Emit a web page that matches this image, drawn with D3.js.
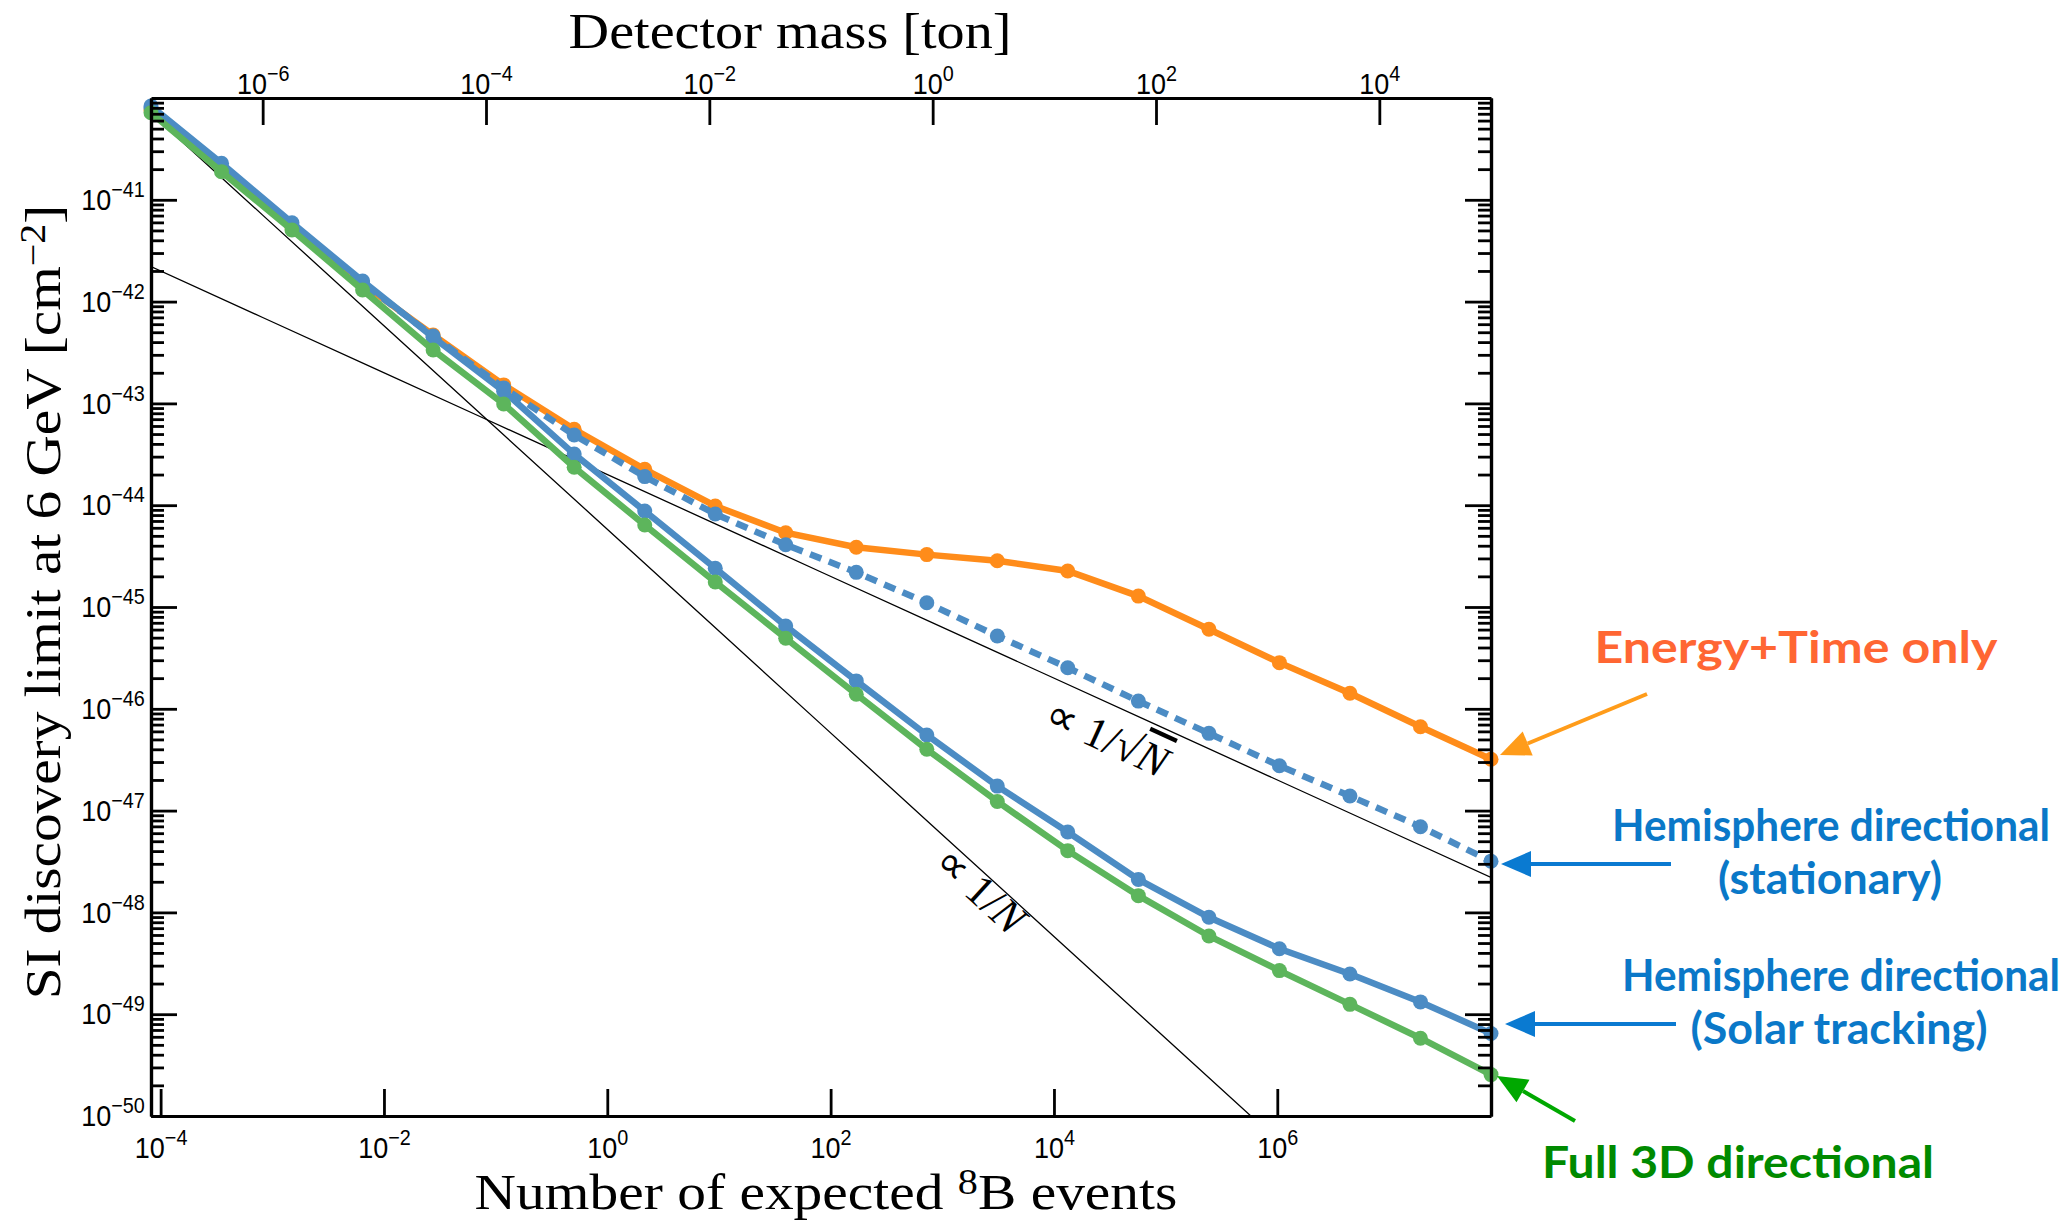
<!DOCTYPE html>
<html>
<head>
<meta charset="utf-8">
<script src="https://cdn.jsdelivr.net/npm/d3@7"></script>
<style>
  body { margin: 0; background: #fff; }
  .axis path, .axis line { stroke: #000; }
  .axis text { font-family: "Liberation Sans", Arial, sans-serif; fill: #000; font-size: 30px; }
</style>
</head>
<body>
<div id="chart"></div>
<script>
var width = 2071,
    height = 1220;

// plot frame
var plotLeft = 151, plotRight = 1491, plotTop = 98, plotBottom = 1116;

// detector mass [ton] of each computed point
var detectorMass = [1e-7, 4.28e-7, 1.83e-6, 7.85e-6, 3.36e-5, 1.44e-4, 6.16e-4, 2.64e-3, 1.13e-2, 4.83e-2,
                    0.207, 0.886, 3.79, 16.2, 69.5, 298, 1274, 5456, 23357, 1e5];

// SI discovery limit at 6 GeV [cm^-2]
var energyTime = [7.62e-41, 2.05e-41, 5.40e-42, 1.49e-42, 4.70e-43, 1.52e-43, 5.57e-44, 2.25e-44, 9.82e-45, 5.37e-45,
                  3.86e-45, 3.27e-45, 2.85e-45, 2.26e-45, 1.28e-45, 6.04e-46, 2.84e-46, 1.42e-46, 6.67e-47, 3.19e-47];
var hemiStationary = [7.98e-41, 2.10e-41, 5.53e-42, 1.52e-42, 4.59e-43, 1.42e-43, 4.89e-44, 1.91e-44, 8.19e-45, 4.09e-45,
                      2.19e-45, 1.10e-45, 5.19e-46, 2.53e-46, 1.19e-46, 5.74e-47, 2.76e-47, 1.39e-47, 6.95e-48, 3.18e-48];
var hemiTracking = [8.34e-41, 2.28e-41, 5.96e-42, 1.59e-42, 4.46e-43, 1.32e-43, 3.18e-44, 8.77e-45, 2.40e-45, 6.51e-46,
                    1.88e-46, 5.53e-47, 1.74e-47, 6.16e-48, 2.11e-48, 8.95e-49, 4.40e-49, 2.48e-49, 1.32e-49, 6.46e-50];
var full3D = [7.17e-41, 1.89e-41, 5.05e-42, 1.30e-42, 3.35e-43, 9.86e-44, 2.36e-44, 6.39e-45, 1.76e-45, 4.93e-46,
              1.39e-46, 4.00e-47, 1.23e-47, 4.04e-48, 1.46e-48, 5.87e-49, 2.68e-49, 1.25e-49, 5.81e-50, 2.55e-50];

// scaling guides: value at N = 1
var invN = 5.8e-45,
    invSqrtN = 2.0e-44;

var massDomain = [1e-7, 1e5],
    eventDomain = [8.2e-5, 8.2e7],
    limitDomain = [1e-50, 1e-40];

var massTicks = [1e-6, 1e-4, 1e-2, 1, 1e2, 1e4];
var eventTicks = [1e-4, 1e-2, 1, 1e2, 1e4, 1e6];
var limitTicks = [1e-41, 1e-42, 1e-43, 1e-44, 1e-45, 1e-46, 1e-47, 1e-48, 1e-49, 1e-50];
var minorLimitTicks = [];
for (var e = -50; e < -40; e++) for (var m = 2; m <= 9; m++) minorLimitTicks.push(m * Math.pow(10, e));

var series = [
  {name: "energyTime", values: energyTime, color: "#ff8c1a", dash: null},
  {name: "hemiStationary", values: hemiStationary, color: "#4c8cc4", dash: "12,8"},
  {name: "hemiTracking", values: hemiTracking, color: "#4c8cc4", dash: null},
  {name: "full3D", values: full3D, color: "#5db55c", dash: null}
];

var svg = d3.select("#chart").append("svg").attr("width", width).attr("height", height);

var xMass = d3.scaleLog().domain(massDomain).range([plotLeft, plotRight]);
var xEvents = d3.scaleLog().domain(eventDomain).range([plotLeft, plotRight]);
var y = d3.scaleLog().domain(limitDomain).range([plotBottom, plotTop]);

svg.append("defs").append("clipPath").attr("id", "plotclip")
  .append("rect").attr("x", plotLeft).attr("y", plotTop)
  .attr("width", plotRight - plotLeft).attr("height", plotBottom - plotTop);

// reference power laws
var guideN = d3.range(0, 13).map(function(i) { return eventDomain[0] * Math.pow(10, i); });
var guideLine = d3.line().x(function(d) { return xEvents(d[0]); }).y(function(d) { return y(d[1]); });
var guides = svg.append("g").attr("clip-path", "url(#plotclip)");
guides.append("path")
  .attr("d", guideLine(guideN.map(function(n) { return [n, invN / n]; })))
  .attr("fill", "none").attr("stroke", "#000").attr("stroke-width", 1.3);
guides.append("path")
  .attr("d", guideLine(guideN.map(function(n) { return [n, invSqrtN / Math.sqrt(n)]; })))
  .attr("fill", "none").attr("stroke", "#000").attr("stroke-width", 1.3);

function guideLabel(n, fn, offset, build) {
  var x0 = xEvents(n), y0 = y(fn(n));
  var x1 = xEvents(n * 10), y1 = y(fn(n * 10));
  var ang = Math.atan2(y1 - y0, x1 - x0) * 180 / Math.PI;
  var t = svg.append("text")
    .attr("transform", "translate(" + x0 + "," + y0 + ") rotate(" + ang + ")")
    .attr("y", offset)
    .attr("text-anchor", "middle")
    .attr("font-family", "Liberation Serif, serif")
    .attr("font-size", 44);
  build(t);
}
guideLabel(2716, function(n) { return invN / n; }, 30, function(t) {
  t.append("tspan").text("\u221D 1/");
  t.append("tspan").attr("font-style", "italic").text("N");
});
guideLabel(3.94e4, function(n) { return invSqrtN / Math.sqrt(n); }, 47, function(t) {
  t.append("tspan").text("\u221D 1/\u221A");
  t.append("tspan").attr("font-style", "italic").style("text-decoration", "overline").text("N");
});

// data series
var line = d3.line()
  .x(function(d, i) { return xMass(detectorMass[i]); })
  .y(function(d) { return y(d); });

var sg = svg.append("g").selectAll("g").data(series).enter().append("g");
sg.append("path")
  .attr("d", function(s) { return line(s.values); })
  .attr("fill", "none")
  .attr("stroke", function(s) { return s.color; })
  .attr("stroke-width", 6.5)
  .attr("stroke-dasharray", function(s) { return s.dash; });
sg.selectAll("circle")
  .data(function(s) { return s.values.map(function(v, i) { return {v: v, i: i, c: s.color}; }); })
  .enter().append("circle")
  .attr("cx", function(d) { return xMass(detectorMass[d.i]); })
  .attr("cy", function(d) { return y(d.v); })
  .attr("r", 7.5)
  .attr("fill", function(d) { return d.c; });

// axes
function pow10(sel) {
  sel.selectAll(".tick text").each(function(d) {
    var t = d3.select(this), ex = Math.round(Math.log10(d));
    t.text("10").attr("transform", "scale(0.9,1)");
    t.append("tspan").attr("dy", -13).style("font-size", "22px")
      .text(String(ex).replace("-", "\u2212"));
  });
}
function styleAxis(g) {
  g.attr("class", "axis").attr("font-size", null);
  g.select(".domain").attr("stroke-width", 3.2);
  g.selectAll(".tick line").attr("stroke-width", 2.8);
}

var gMinL = svg.append("g").attr("transform", "translate(" + plotLeft + ",0)")
  .call(d3.axisLeft(y).tickValues(minorLimitTicks).tickSize(-13).tickSizeOuter(0).tickFormat(""));
styleAxis(gMinL);
var gMinR = svg.append("g").attr("transform", "translate(" + plotRight + ",0)")
  .call(d3.axisRight(y).tickValues(minorLimitTicks).tickSize(-13).tickSizeOuter(0).tickFormat(""));
styleAxis(gMinR);

var gL = svg.append("g").attr("transform", "translate(" + plotLeft + ",0)")
  .call(d3.axisLeft(y).tickValues(limitTicks).tickSize(-26).tickSizeOuter(0).tickPadding(7));
styleAxis(gL); pow10(gL);
var gR = svg.append("g").attr("transform", "translate(" + plotRight + ",0)")
  .call(d3.axisRight(y).tickValues(limitTicks).tickSize(-26).tickSizeOuter(0).tickFormat(""));
styleAxis(gR);

var gB = svg.append("g").attr("transform", "translate(0," + plotBottom + ")")
  .call(d3.axisBottom(xEvents).tickValues(eventTicks).tickSize(-27).tickSizeOuter(0).tickPadding(21));
styleAxis(gB); pow10(gB);
var gT = svg.append("g").attr("transform", "translate(0," + plotTop + ")")
  .call(d3.axisTop(xMass).tickValues(massTicks).tickSize(-27).tickSizeOuter(0).tickPadding(4));
styleAxis(gT); pow10(gT);

// axis titles, stretched sideways to the reference width
var titleFont = "Liberation Serif, serif";
function titleText(transform, target) {
  var t = svg.append("text").attr("text-anchor", "middle")
    .attr("font-family", titleFont).attr("font-size", 50);
  t.datum({transform: transform, target: target});
  return t;
}
function stretch(t) {
  var d = t.datum(), w = t.node().getComputedTextLength();
  t.attr("transform", d.transform + " scale(" + (d.target / w) + ",1)");
}

var tTop = titleText("translate(790,48)", 443).text("Detector mass [ton]");
stretch(tTop);

var tBot = titleText("translate(826,1209)", 703);
tBot.append("tspan").text("Number of expected ");
tBot.append("tspan").attr("dy", "-0.42em").attr("font-size", "70%").text("8");
tBot.append("tspan").attr("dy", "0.3em").text("B events");
stretch(tBot);

var tLeft = titleText("translate(60,602) rotate(-90)", 795);
tLeft.append("tspan").text("SI discovery limit at 6 GeV [cm");
tLeft.append("tspan").attr("dy", "-0.42em").attr("font-size", "70%").text("\u22122");
tLeft.append("tspan").attr("dy", "0.3em").text("]");
stretch(tLeft);

// annotations
var notes = [
  {text: "Energy+Time only", x: 1796, y: 663, w: 403, color: "#ff6633"},
  {text: "Hemisphere directional", x: 1831, y: 841, w: 438, color: "#0a78c8"},
  {text: "(stationary)", x: 1830, y: 894, w: 224, color: "#0a78c8"},
  {text: "Hemisphere directional", x: 1841, y: 991, w: 438, color: "#0a78c8"},
  {text: "(Solar tracking)", x: 1839, y: 1044, w: 297, color: "#0a78c8"},
  {text: "Full 3D directional", x: 1738, y: 1178, w: 392, color: "#008a00"}
];
svg.append("g").selectAll("text").data(notes).enter().append("text")
  .attr("x", function(d) { return d.x; })
  .attr("y", function(d) { return d.y; })
  .attr("text-anchor", "middle")
  .attr("font-family", "Lato, sans-serif")
  .attr("font-weight", 700)
  .attr("font-size", 43)
  .attr("textLength", function(d) { return d.w; })
  .attr("lengthAdjust", "spacingAndGlyphs")
  .attr("fill", function(d) { return d.color; })
  .text(function(d) { return d.text; });

var arrows = [
  {x1: 1647, y1: 694, x2: 1500, y2: 755, color: "#ff9c1a"},
  {x1: 1671, y1: 864, x2: 1501, y2: 864, color: "#0a7ad1"},
  {x1: 1676, y1: 1024, x2: 1505, y2: 1024, color: "#0a7ad1"},
  {x1: 1575, y1: 1121, x2: 1497, y2: 1076, color: "#00a800"}
];
arrows.forEach(function(a) {
  var ang = Math.atan2(a.y2 - a.y1, a.x2 - a.x1);
  var len = 30, half = 13;
  var bx = a.x2 - len * Math.cos(ang), by = a.y2 - len * Math.sin(ang);
  svg.append("line")
    .attr("x1", a.x1).attr("y1", a.y1).attr("x2", bx).attr("y2", by)
    .attr("stroke", a.color).attr("stroke-width", 4);
  svg.append("path")
    .attr("d", "M" + a.x2 + "," + a.y2 +
      "L" + (bx + half * Math.sin(ang)) + "," + (by - half * Math.cos(ang)) +
      "L" + (bx - half * Math.sin(ang)) + "," + (by + half * Math.cos(ang)) + "Z")
    .attr("fill", a.color);
});
</script>
</body>
</html>
